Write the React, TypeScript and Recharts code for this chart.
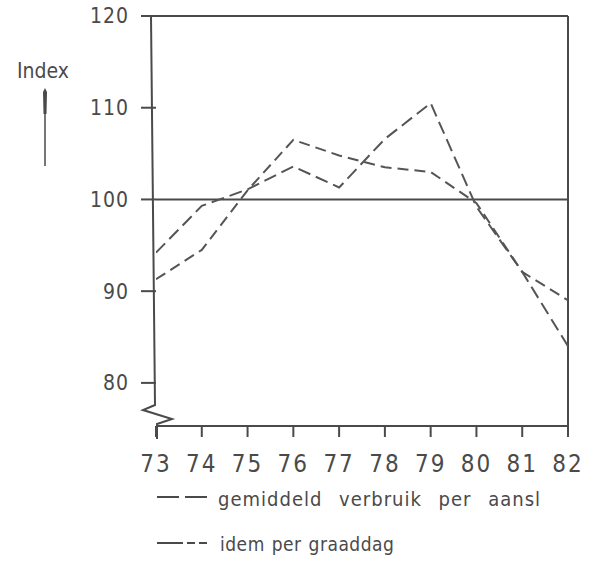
import React from 'react';
import { LineChart, Line, XAxis, YAxis, ReferenceLine } from 'recharts';

const years = [73, 74, 75, 76, 77, 78, 79, 80, 81, 82];
const verbruikPerAansl = [94.2, 99.3, 101.1, 103.6, 101.3, 106.6, 110.5, 99.2, 92.1, 84.0];
const idemPerGraaddag = [91.3, 94.5, 101.0, 106.5, 104.8, 103.5, 103.0, 99.6, 92.1, 89.0];
const yTicks = [80, 90, 100, 110, 120];
const legendLabels = ['gemiddeld verbruik per aansl', 'idem per graaddag'];

const data = years.map((y, i) => ({ year: y, a: verbruikPerAansl[i], b: idemPerGraaddag[i] }));

const INK = '#4a4a4a';
const FONT = '"DejaVu Sans Condensed", "Liberation Sans Narrow", "DejaVu Sans", sans-serif';

const AxisWithBreak = (props: any) => {
  const { x1, y1, y2 } = props;
  const x = x1;
  const top = Math.min(y1, y2);
  const bottom = Math.max(y1, y2);
  const d = `M${x - 5},${top} L${x - 1},${bottom - 21} L${x - 13},${bottom - 16} L${x + 16},${bottom - 7} L${x + 1},${bottom - 2} L${x + 1},${bottom + 13}`;
  return <path d={d} fill="none" stroke={INK} strokeWidth={2} strokeLinejoin="miter" />;
};

export default function App() {
  return (
    <div style={{ position: 'absolute', left: 0, top: 0, width: 598, height: 566, background: '#fff', fontFamily: FONT }}>
      <LineChart
        width={598}
        height={566}
        data={data}
        margin={{ top: 16, right: 30, left: 0, bottom: 90 }}
      >
        <XAxis
          dataKey="year"
          type="number"
          domain={[73, 82]}
          ticks={years}
          allowDataOverflow
          height={50}
          axisLine={{ stroke: INK, strokeWidth: 2 }}
          tickLine={{ stroke: INK, strokeWidth: 2 }}
          tickSize={11}
          tickMargin={18}
          tick={{ fill: INK, fontSize: 24, fontFamily: FONT, letterSpacing: 2 }}
        />
        <YAxis
          type="number"
          domain={[75.3, 120]}
          ticks={yTicks}
          allowDataOverflow
          width={156}
          axisLine={false}
          tickLine={{ stroke: INK, strokeWidth: 2 }}
          tickSize={15}
          tickMargin={12}
          tick={{ fill: INK, fontSize: 21, fontFamily: FONT, letterSpacing: 1 }}
        />
        <ReferenceLine x={73} stroke={INK} shape={AxisWithBreak} />
        <ReferenceLine y={120} stroke={INK} strokeWidth={2} />
        <ReferenceLine x={82} stroke={INK} strokeWidth={2} />
        <ReferenceLine y={100} stroke={INK} strokeWidth={2} />
        <Line
          dataKey="a"
          type="linear"
          stroke="#555"
          strokeWidth={2}
          strokeDasharray="13 6"
          dot={false}
          isAnimationActive={false}
        />
        <Line
          dataKey="b"
          type="linear"
          stroke="#555"
          strokeWidth={2}
          strokeDasharray="11 6"
          dot={false}
          isAnimationActive={false}
        />
      </LineChart>

      <div style={{ position: 'absolute', left: 17, top: 59, fontSize: 21, color: INK, fontFamily: FONT }}>Index</div>
      <svg style={{ position: 'absolute', left: 38, top: 88 }} width={14} height={80}>
        <line x1={7} y1={2} x2={7} y2={78} stroke={INK} strokeWidth={1.5} />
        <path d="M5,4 L7,0 L9,4 L8.5,26 L5.5,26 Z" fill={INK} />
      </svg>

      <svg style={{ position: 'absolute', left: 150, top: 488 }} width={70} height={70}>
        <line x1={7} y1={9} x2={57} y2={9} stroke={INK} strokeWidth={2} strokeDasharray="22 6" />
        <line x1={7} y1={55} x2={57} y2={55} stroke={INK} strokeWidth={2} strokeDasharray="26 4 8 4" />
      </svg>
      <div style={{ position: 'absolute', left: 218, top: 487, fontSize: 20, letterSpacing: 1, color: INK, fontFamily: FONT, wordSpacing: 10, whiteSpace: 'nowrap' }}>
        {legendLabels[0]}
      </div>
      <div style={{ position: 'absolute', left: 220, top: 533, fontSize: 19, letterSpacing: 0.5, color: INK, fontFamily: FONT, wordSpacing: 1, whiteSpace: 'nowrap' }}>
        {legendLabels[1]}
      </div>
    </div>
  );
}
